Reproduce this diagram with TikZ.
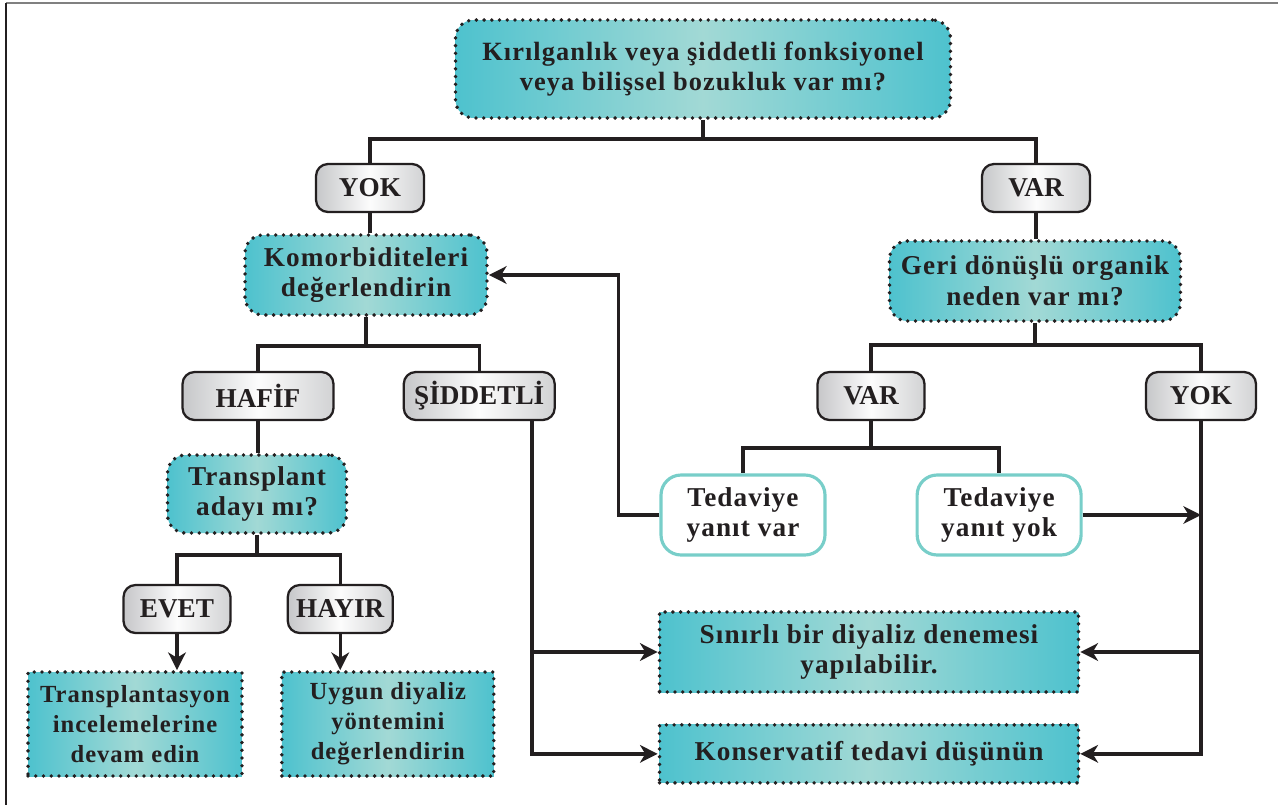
\documentclass[tikz,border=0pt]{standalone}
\usepackage{fontspec}
\setmainfont{Liberation Serif}[LetterSpace=4]
\newfontfamily\tagfont{Liberation Serif}
\usetikzlibrary{positioning,arrows.meta,calc}
\definecolor{KTeal}{HTML}{4EC2CE}
\definecolor{KTealMid}{HTML}{A2D9D5}
\definecolor{KLine}{HTML}{231F20}
\definecolor{KRim}{HTML}{78CEC9}
\definecolor{KGrey}{HTML}{C6C7C9}

\begin{document}
\begin{tikzpicture}[
  x=0.02cm, y=-0.02cm,
  font=\bfseries\fontsize{15.5}{17.5}\selectfont,
  qbox/.style={draw=KLine, line width=2.2pt, dash pattern=on 0pt off 4.4pt, line cap=round, rounded corners=0.36cm, left color=KTeal, right color=KTeal, middle color=KTealMid, align=center, text=KLine, inner sep=0pt},
  rbox/.style={qbox, rounded corners=0pt},
  tag/.style={draw=KLine, line width=1.3pt, rounded corners=0.24cm, left color=KGrey, right color=KGrey!80, middle color=white!95!KGrey, text=KLine, font=\tagfont\bfseries\fontsize{15.5}{17}\selectfont, minimum height=0.96cm, inner sep=0pt},
  res/.style={draw=KRim, line width=1.8pt, fill=white, rounded corners=0.4cm, minimum width=3.28cm, minimum height=1.6cm, align=center, text=KLine, inner sep=0pt},
  conn/.style={KLine, line width=1.9pt},
  arrow/.style={conn, -{Stealth[length=10pt,width=10pt,inset=3pt]}}
]
\useasboundingbox (0,0) rectangle (1278,805);
% frame
\draw[gray, line width=1.2pt] (6,3) -- (1278,3);
\draw[KLine, line width=1.2pt] (6,3) -- (6,805);

% question boxes and answers
\node[qbox, minimum width=9.9cm, minimum height=1.96cm, font=\bfseries\fontsize{15}{17.5}\selectfont] (top) at (703,69) {Kırılganlık veya şiddetli fonksiyonel\\veya bilişsel bozukluk var mı?};
\node[tag, minimum width=2.16cm] (yok1) at (370,188) {YOK};
\node[tag, minimum width=2.16cm] (var1) at (1036,188) {VAR};
\node[qbox, minimum width=4.84cm, minimum height=1.6cm] (kom) at (366,275) {Komorbiditeleri\\değerlendirin};
\node[qbox, minimum width=5.82cm, minimum height=1.6cm] (geri) at (1035,281) {Geri dönüşlü organik\\neden var mı?};
\node[tag, minimum width=3.02cm] (hafif) at (258,396) {HAFİF};
\node[tag, minimum width=3.02cm, right=1.36cm of hafif] (siddet) {ŞİDDETLİ};
\node[tag, minimum width=2.14cm] (var2) at (871,396) {VAR};
\node[tag, minimum width=2.2cm] (yok2) at (1201,396) {YOK};
\node[qbox, minimum width=3.58cm, minimum height=1.56cm] (aday) at (257,494) {Transplant\\adayı mı?};
\node[tag, minimum width=2.14cm] (evet) at (177,609) {EVET};
\node[tag, minimum width=2.1cm, right=1.1cm of evet] (hayir) {HAYIR};

% results
\node[rbox, minimum width=4.28cm, minimum height=2.08cm, font=\bfseries\fontsize{14}{17}\selectfont] (izle) at (135,724) {Transplantasyon\\incelemelerine\\devam edin};
\node[rbox, minimum width=4.24cm, minimum height=2.08cm, font=\bfseries\fontsize{14}{17}\selectfont, right=0.72cm of izle] (uygun) {Uygun diyaliz\\yöntemini\\değerlendirin};
\node[res] (tvar) at (743,515) {Tedaviye\\yanıt var};
\node[res, right=1.78cm of tvar] (tyok) {Tedaviye\\yanıt yok};
\node[rbox, minimum width=8.38cm, minimum height=1.6cm] (sinirli) at (869,652) {Sınırlı bir diyaliz denemesi\\yapılabilir.};
\node[rbox, minimum width=8.38cm, minimum height=1.16cm, below=0.58cm of sinirli] (kons) {Konservatif tedavi düşünün};

% connectors
\draw[conn] (top.south) -- ++(0,19) -| (yok1.north);
\draw[conn] (top.south) -- ++(0,19) -| (var1.north);
\draw[conn] (yok1.south) -- (yok1.south |- kom.north);
\draw[conn] (var1.south) -- (var1.south |- geri.north);
\draw[conn] (kom.south) -- ++(0,29) -| (hafif.north);
\draw[conn] (kom.south) -- ++(0,29) -| (siddet.north);
\draw[conn] (geri.south) -- ++(0,22) -| (var2.north);
\draw[conn] (geri.south) -- ++(0,22) -| (yok2.north);
\draw[conn] (hafif.south) -- (hafif.south |- aday.north);
\draw[conn] (aday.south) -- ++(0,20) -| (evet.north);
\draw[conn] (aday.south) -- ++(0,20) -| (hayir.north);
\draw[arrow] (evet.south) -- (evet.south |- izle.north);
\draw[arrow] (hayir.south) -- (hayir.south |- uygun.north);
\draw[conn] (var2.south) -- ++(0,27) -| (tvar.north);
\draw[conn] (var2.south) -- ++(0,27) -| (tyok.north);
\draw[arrow] (tvar.west) -- ++(-41,0) |- (kom.east);
\draw[arrow] (tyok.east) -- (tyok.east -| yok2.south);
\coordinate (sd) at ([xshift=-0.48cm]siddet.south east);
\draw[arrow] (sd) |- (sinirli.west);
\draw[arrow] (sd) |- (kons.west);
\draw[arrow] (yok2.south) |- (sinirli.east);
\draw[arrow] (yok2.south) |- (kons.east);
\end{tikzpicture}
\end{document}
